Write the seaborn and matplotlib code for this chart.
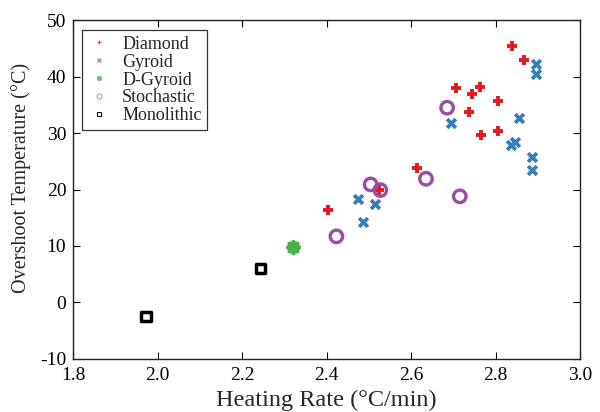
import matplotlib
matplotlib.use("Agg")
import matplotlib.pyplot as plt
from matplotlib.lines import Line2D
import seaborn as sns
import pandas as pd

diamond_x = [2.838, 2.867, 2.706, 2.764, 2.744, 2.806, 2.736, 2.806, 2.766, 2.614, 2.524, 2.404]
diamond_y = [45.5, 43.0, 38.0, 38.1, 36.9, 35.6, 33.8, 30.4, 29.6, 23.9, 19.9, 16.3]
gyroid_x = [2.896, 2.896, 2.856, 2.695, 2.846, 2.836, 2.887, 2.887, 2.475, 2.515, 2.485]
gyroid_y = [42.2, 40.5, 32.7, 31.8, 28.5, 27.8, 25.7, 23.5, 18.4, 17.5, 14.3]
dgyroid_x = [2.321]
dgyroid_y = [9.85]
stoch_x = [2.685, 2.504, 2.527, 2.635, 2.715, 2.423]
stoch_y = [34.5, 20.9, 19.9, 21.9, 18.8, 11.7]
mono_x = [2.244, 1.972]
mono_y = [5.96, -2.5]

labels = ["Diamond", "Gyroid", "D-Gyroid", "Stochastic", "Monolithic"]
xticks = [1.8, 2.0, 2.2, 2.4, 2.6, 2.8, 3.0]
yticks = [-10, 0, 10, 20, 30, 40, 50]

sns.set_theme(style="ticks")
plt.rcParams['font.family'] = ['Liberation Serif', 'DejaVu Serif']

fig = plt.figure(figsize=(6, 4.12), dpi=100)
ax = fig.add_axes([0.122, 0.129, 0.845, 0.822])

series = [
    (diamond_x, diamond_y, "#e41a1c", "+", dict(s=60, linewidth=2.8)),
    (gyroid_x, gyroid_y, "#377eb8", "x", dict(s=40, linewidth=2.7)),
    (dgyroid_x, dgyroid_y, "#4daf4a", (8, 2, 0), dict(s=60, linewidth=3.0)),
    (stoch_x, stoch_y, "#984ea3", "o", dict(s=80, linewidth=2.4, facecolors="none")),
    (mono_x, mono_y, "black", "s", dict(s=45, linewidth=2.5, facecolors="none")),
]
handles = []
for (xs, ys, col, mk, kw), lab in zip(series, labels):
    df = pd.DataFrame({"x": xs, "y": ys})
    if kw.get("facecolors") == "none":
        sns.scatterplot(data=df, x="x", y="y", ax=ax, marker=mk, edgecolor=col,
                        legend=False, zorder=3, **kw)
        handles.append(Line2D([], [], linestyle="none", marker=mk, markersize=3.5,
                              markerfacecolor="none", markeredgecolor=col,
                              markeredgewidth=0.8, alpha=0.6 if mk == "o" else 0.9))
    else:
        sns.scatterplot(data=df, x="x", y="y", ax=ax, marker=mk, color=col,
                        legend=False, zorder=3, **kw)
        handles.append(Line2D([], [], linestyle="none", marker=mk, markersize=3.5,
                              color=col, markeredgewidth=0.9, alpha=0.8))

ax.set_xlim(1.8, 3.0)
ax.set_ylim(-10, 50)
ax.set_xticks(xticks)
ax.set_xticklabels([f"{v:.1f}" for v in xticks])
ax.set_yticks(yticks)
ax.set_yticklabels([str(v) for v in yticks])
ax.tick_params(direction="in", top=True, right=True, length=5, width=0.8,
               labelsize=14, colors="black")
ax.tick_params(axis="x", pad=6)
ax.tick_params(axis="y", pad=5)
for sp in ax.spines.values():
    sp.set_visible(True)
    sp.set_linewidth(1.0)
    sp.set_color("#222222")
ax.set_xlabel("Heating Rate (°C/min)", fontsize=17.5, labelpad=4)
ax.set_ylabel("Overshoot Temperature (°C)", fontsize=14.5)
ax.yaxis.set_label_coords(-0.083, 0.534)

leg = ax.legend(handles=handles, labels=labels, loc="upper left", frameon=True,
                fancybox=False, fontsize=13, handletextpad=0.6, borderpad=0.3,
                labelspacing=0.05, handlelength=1.3, borderaxespad=0,
                bbox_to_anchor=(0.018, 0.97))
leg.get_frame().set_edgecolor("black")
leg.get_frame().set_linewidth(0.9)

fig.savefig("out.png", dpi=100)
